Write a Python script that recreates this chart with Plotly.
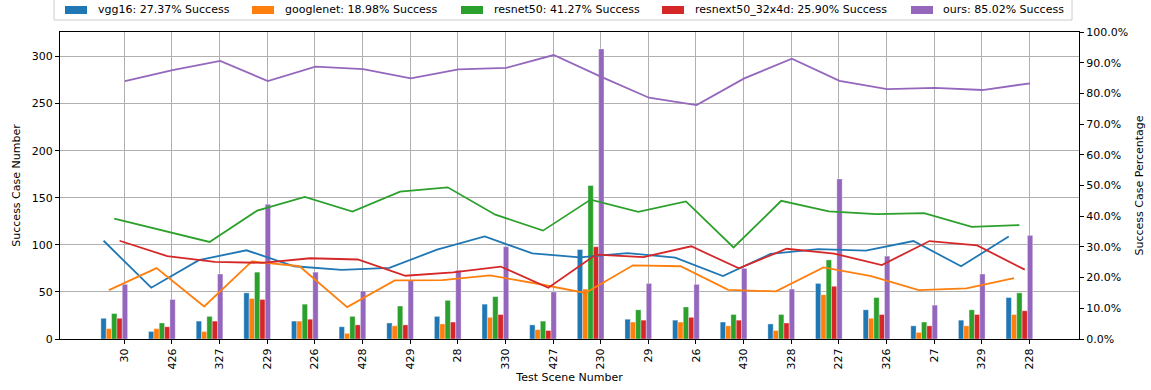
import plotly.graph_objects as go

scenes = ['30', '426', '327', '229', '226', '428', '429', '28', '330', '427',
          '230', '29', '26', '430', '328', '227', '326', '27', '329', '228']

models = ['vgg16', 'googlenet', 'resnet50', 'resnext50_32x4d', 'ours']
overall = ['27.37%', '18.98%', '41.27%', '25.90%', '85.02%']

vgg16_count = [22, 8, 19, 49, 19, 13, 17, 24, 37, 15, 95, 21, 20, 18, 16, 59, 31, 14, 20, 44]
googlenet_count = [11, 11, 8, 43, 19, 6, 14, 16, 23, 10, 53, 18, 18, 14, 9, 47, 22, 7, 14, 26]
resnet50_count = [27, 17, 24, 71, 37, 24, 35, 41, 45, 19, 163, 31, 34, 26, 26, 84, 44, 18, 31, 49]
resnext_count = [22, 13, 19, 42, 21, 15, 15, 18, 26, 9, 98, 20, 23, 20, 17, 56, 26, 14, 26, 30]
ours_count = [58, 42, 69, 143, 71, 51, 62, 73, 98, 50, 308, 59, 58, 75, 53, 170, 88, 36, 69, 110]

vgg16_pct = [32.0, 16.7, 25.7, 28.9, 23.7, 22.5, 23.2, 29.1, 33.4, 27.9, 26.6, 28.0, 26.5, 20.5, 27.7, 29.3, 28.8, 31.9, 23.7, 33.4]
googlenet_pct = [15.9, 23.1, 10.6, 25.3, 23.7, 10.4, 19.1, 19.2, 20.7, 18.0, 15.0, 24.0, 23.7, 16.0, 15.5, 23.3, 20.5, 15.9, 16.5, 19.8]
resnet50_pct = [39.2, 35.4, 31.6, 41.8, 46.3, 41.5, 48.0, 49.4, 40.5, 35.3, 45.4, 41.4, 44.8, 29.8, 45.0, 41.6, 40.7, 41.0, 36.5, 37.1]
resnext_pct = [32.0, 27.0, 25.1, 24.8, 26.3, 25.9, 20.6, 21.7, 23.6, 16.7, 27.5, 26.7, 30.2, 23.0, 29.4, 27.8, 24.1, 31.9, 30.5, 22.6]
ours_pct = [84.0, 87.6, 90.6, 84.0, 88.7, 87.9, 84.9, 87.8, 88.3, 92.5, 85.4, 78.6, 76.2, 84.9, 91.3, 84.1, 81.4, 81.8, 81.1, 83.3]

counts = [vgg16_count, googlenet_count, resnet50_count, resnext_count, ours_count]
pcts = [vgg16_pct, googlenet_pct, resnet50_pct, resnext_pct, ours_pct]

colors = ['#1f77b4', '#ff7f0e', '#2ca02c', '#d62728', '#9467bd']
offsets = [-0.435, -0.323, -0.211, -0.099, 0.013]
bar_w = 0.112

fig = go.Figure()
for k in range(5):
    xs = [i + offsets[k] for i in range(len(scenes))]
    fig.add_trace(go.Bar(
        x=xs, y=counts[k], width=bar_w,
        marker=dict(color=colors[k], line=dict(color='rgba(255,255,255,0.35)', width=1)),
        name=f'{models[k]}: {overall[k]} Success',
        showlegend=False, yaxis='y'))
for k in range(5):
    xs = [i + offsets[k] for i in range(len(scenes))]
    fig.add_trace(go.Scatter(
        x=xs, y=[p / 100 for p in pcts[k]], mode='lines',
        line=dict(color=colors[k], width=1.8),
        showlegend=False, yaxis='y2'))

# ---- manual legend (layout in pixels, converted to paper coords) ----
PL, PR, PT, PB = 60, 1079, 32, 339
def px_x(px):
    return (px - PL) / (PR - PL)
def px_y(py):
    return (PB - py) / (PB - PT)

shapes = [dict(type='rect', xref='paper', yref='paper',
               x0=px_x(54), x1=px_x(1072), y0=px_y(-4), y1=px_y(20),
               fillcolor='white', line=dict(color='#cccccc', width=1), layer='above')]
annotations = []
patch_left = [65, 252, 461, 662, 911]
text_left = [96, 283, 492, 693, 941]
for k in range(5):
    shapes.append(dict(type='rect', xref='paper', yref='paper',
                       x0=px_x(patch_left[k]), x1=px_x(patch_left[k] + 22),
                       y0=px_y(6), y1=px_y(14),
                       fillcolor=colors[k], line=dict(width=0), layer='above'))
    annotations.append(dict(xref='paper', yref='paper', x=px_x(text_left[k]), y=px_y(10),
                            xanchor='left', yanchor='middle', showarrow=False,
                            text=f'{models[k]}: {overall[k]} Success',
                            font=dict(family='DejaVu Sans', size=11, color='black')))

axis_font = dict(family='DejaVu Sans', size=11, color='black')
fig.update_layout(
    width=1151, height=390,
    margin=dict(l=PL, r=1151 - PR, t=PT, b=390 - PB),
    paper_bgcolor='white', plot_bgcolor='white',
    font=axis_font,
    barmode='overlay',
    showlegend=False,
    shapes=shapes,
    annotations=annotations,
    xaxis=dict(
        range=[-1.35, 20.04],
        tickmode='array', tickvals=list(range(len(scenes))), ticktext=scenes,
        tickangle=-90, ticks='outside', ticklen=4, tickcolor='black',
        showgrid=True, gridcolor='#b0b0b0', gridwidth=1,
        showline=True, linecolor='black', linewidth=1, mirror=True,
        zeroline=False, automargin=False,
        title=dict(text='Test Scene Number', font=axis_font, standoff=4),
    ),
    yaxis=dict(
        range=[0, 326], tickvals=[0, 50, 100, 150, 200, 250, 300],
        ticks='outside', ticklen=4, tickcolor='black',
        showgrid=True, gridcolor='#b0b0b0', gridwidth=1,
        showline=True, linecolor='black', linewidth=1,
        zeroline=False, automargin=False,
        title=dict(text='Success Case Number', font=axis_font, standoff=8),
    ),
    yaxis2=dict(
        overlaying='y', side='right', range=[0, 1],
        tickvals=[i / 10 for i in range(11)], tickformat='.1%',
        ticks='outside', ticklen=4, tickcolor='black',
        showgrid=False, showline=True, linecolor='black', linewidth=1,
        zeroline=False, automargin=False,
        title=dict(text='Success Case Percentage', font=axis_font, standoff=8),
    ),
)

fig.write_html('out.html')
